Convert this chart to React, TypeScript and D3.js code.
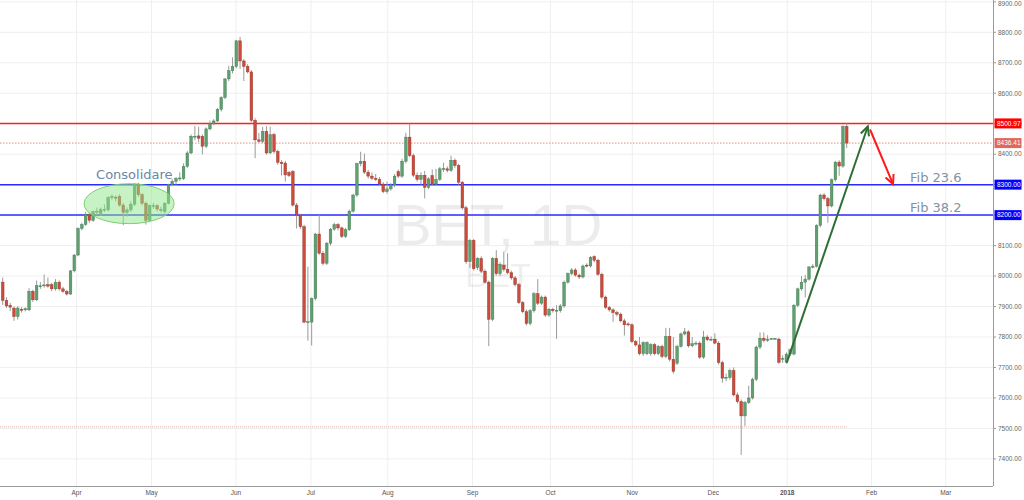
import React from "react";
import * as d3 from "d3";

// [open, high, low, close] per daily bar, in order
const bars: [number, number, number, number][] = [
  [7980,7995,7905,7920],[7920,7930,7895,7902],[7904,7912,7885,7898],[7895,7900,7853,7867],[7867,7902,7857,7895],
  [7891,7898,7880,7889],[7889,7897,7884,7893],[7889,7960,7885,7950],[7950,7955,7915,7922],[7922,7985,7918,7969],
  [7967,7980,7958,7968],[7970,8005,7962,7971],[7972,7995,7962,7967],[7972,7978,7950,7958],[7958,7990,7952,7980],
  [7980,7986,7952,7958],[7958,7965,7945,7950],[7950,7955,7936,7941],[7941,8020,7938,8017],[8017,8072,8012,8069],
  [8069,8160,8065,8156],[8156,8175,8150,8169],[8169,8210,8165,8202],[8202,8208,8175,8183],[8183,8215,8178,8211],
  [8211,8225,8200,8213],[8205,8225,8198,8218],[8218,8235,8210,8219],[8217,8262,8212,8258],[8260,8268,8250,8261],
  [8259,8265,8245,8258],[8261,8268,8228,8233],[8233,8240,8167,8209],[8209,8225,8195,8217],[8217,8245,8210,8236],
  [8236,8305,8230,8302],[8302,8306,8260,8267],[8267,8272,8232,8239],[8239,8245,8169,8183],[8183,8235,8178,8231],
  [8231,8240,8220,8232],[8231,8236,8212,8220],[8217,8228,8208,8218],[8211,8242,8205,8239],[8239,8303,8235,8300],
  [8300,8318,8295,8311],[8311,8325,8300,8320],[8320,8340,8312,8322],[8320,8370,8315,8360],[8360,8410,8355,8404],
  [8404,8465,8400,8459],[8457,8493,8445,8459],[8460,8490,8440,8452],[8459,8465,8399,8426],[8426,8488,8420,8483],
  [8483,8510,8478,8501],[8503,8515,8495,8509],[8509,8552,8505,8547],[8547,8590,8540,8586],[8586,8650,8580,8647],
  [8647,8690,8640,8674],[8674,8718,8665,8688],[8688,8775,8682,8772],[8772,8785,8680,8706],[8706,8712,8640,8688],
  [8688,8695,8665,8670],[8670,8676,8505,8511],[8511,8518,8387,8447],[8447,8470,8438,8442],[8442,8490,8436,8475],
  [8475,8492,8398,8404],[8404,8490,8400,8464],[8464,8470,8402,8409],[8409,8415,8365,8373],[8373,8380,8330,8369],
  [8371,8378,8310,8332],[8340,8345,8325,8330],[8343,8348,8228,8233],[8233,8240,8156,8200],[8200,8205,8155,8162],
  [8162,8168,7845,7849],[7849,8031,7788,7850],[7849,7930,7772,7926],[7926,8142,7920,8138],[8138,8200,8070,8075],
  [8075,8082,8035,8042],[8042,8112,8036,8108],[8108,8158,8100,8154],[8154,8175,8148,8169],[8169,8174,8150,8158],
  [8158,8162,8125,8130],[8130,8158,8125,8152],[8152,8218,8148,8213],[8213,8270,8208,8266],[8266,8372,8260,8369],
  [8369,8408,8360,8377],[8377,8402,8335,8341],[8341,8348,8320,8328],[8328,8340,8315,8321],[8321,8335,8312,8317],
  [8317,8325,8298,8302],[8302,8308,8272,8277],[8277,8310,8270,8286],[8286,8305,8280,8299],[8299,8335,8292,8328],
  [8343,8350,8322,8328],[8328,8385,8322,8377],[8377,8470,8370,8456],[8456,8500,8390,8395],[8395,8402,8325,8331],
  [8331,8340,8310,8317],[8317,8340,8300,8331],[8331,8345,8255,8291],[8291,8325,8285,8319],[8330,8350,8296,8302],
  [8302,8352,8296,8317],[8317,8358,8312,8352],[8352,8372,8342,8353],[8352,8360,8340,8347],[8347,8395,8342,8380],
  [8380,8386,8355,8363],[8363,8368,8300,8308],[8308,8312,8218,8224],[8224,8230,8040,8047],[8047,8122,8027,8117],
  [8117,8122,8018,8024],[8028,8062,8020,8058],[8058,8065,8010,8016],[8016,8022,7975,7980],[7980,7985,7770,7858],
  [7858,8062,7852,8058],[8058,8085,8002,8008],[8008,8045,8000,8039],[8036,8080,8015,8022],[8022,8075,8005,8011],
  [8011,8018,7988,7994],[7994,8000,7965,7972],[7972,7978,7908,7913],[7913,7918,7878,7883],[7883,7890,7838,7844],
  [7844,7892,7838,7886],[7886,7948,7880,7942],[7942,7990,7905,7911],[7911,7936,7905,7931],[7931,7936,7866,7872],
  [7872,7896,7866,7891],[7891,7896,7880,7886],[7886,7905,7794,7888],[7886,7908,7880,7902],[7902,7985,7896,7980],
  [7980,8012,7975,8008],[8008,8026,8002,8020],[8020,8026,7998,8003],[8003,8008,7990,7997],[7997,8038,7992,8033],
  [8036,8042,8028,8033],[8033,8066,8028,8061],[8064,8068,8045,8052],[8052,8057,8000,8006],[8006,8011,7925,7931],
  [7931,7936,7892,7897],[7897,7902,7883,7889],[7889,7894,7850,7880],[7880,7886,7868,7875],[7875,7880,7848,7853],
  [7853,7860,7805,7840],[7843,7848,7835,7840],[7840,7845,7780,7785],[7785,7790,7768,7774],[7774,7800,7740,7745],
  [7745,7786,7738,7782],[7745,7786,7740,7782],[7745,7780,7738,7775],[7775,7780,7740,7745],[7745,7774,7740,7769],
  [7769,7775,7730,7736],[7736,7830,7730,7802],[7802,7830,7720,7727],[7727,7800,7680,7687],[7714,7775,7708,7769],
  [7769,7815,7765,7810],[7810,7830,7805,7817],[7817,7822,7765,7771],[7771,7800,7766,7778],[7778,7786,7772,7780],
  [7780,7786,7728,7734],[7734,7820,7728,7800],[7800,7806,7786,7791],[7793,7802,7786,7793],[7793,7812,7776,7780],
  [7780,7786,7710,7716],[7716,7722,7650,7665],[7667,7680,7655,7668],[7667,7696,7660,7690],[7690,7700,7605,7610],
  [7610,7618,7582,7588],[7588,7595,7413,7541],[7541,7590,7508,7585],[7585,7640,7580,7600],[7600,7666,7595,7661],
  [7661,7772,7655,7767],[7767,7815,7760,7796],[7796,7815,7783,7789],[7789,7806,7784,7793],[7795,7797,7793,7795],
  [7795,7797,7793,7795],[7793,7798,7712,7717],[7728,7740,7715,7730],[7717,7750,7712,7744],[7744,7762,7738,7758],
  [7744,7908,7740,7904],[7904,7962,7898,7958],[7958,8000,7952,7980],[7980,8004,7930,7990],[7990,8032,7985,8030],
  [8030,8040,8025,8032],[8032,8170,8028,8166],[8166,8270,8160,8266],[8266,8272,8248,8254],[8254,8260,8175,8230],
  [8230,8320,8225,8316],[8316,8378,8310,8374],[8374,8380,8329,8361],[8361,8495,8355,8491],[8491,8500.97,8420,8436.41],
];

const priceTicks = [7400, 7500, 7600, 7700, 7800, 7900, 8000, 8100, 8200, 8300, 8400, 8500, 8600, 8700, 8800, 8900];

const monthLabels = ["Apr", "May", "Jun", "Jul", "Aug", "Sep", "Oct", "Nov", "Dec", "2018", "Feb", "Mar"];
const monthBarIndex = [19.6, 39.5, 61.9, 81.8, 102.2, 124.7, 145.4, 167.1, 188.6, 208.2, 230.6, 250.3];

const levelValues = [8500.97, 8436.41, 8300, 8200];
const levelColors = ["#ff1f1f", "#e8897f", "#2b2bff", "#2b2bff"];
const levelBoxColors = ["#ff0000", "#e0685c", "#0000ff", "#0000ff"];

const fibLabels = ["Fib 23.6", "Fib 38.2"];
const fibValues = [8300, 8200];

const W = 1024;
const H = 500;
const plotRight = 993;
const plotBottom = 486;

export default function App() {
  const x = d3.scaleLinear().domain([0, bars.length - 1]).range([2.7, 846.7]);
  const y = d3.scaleLinear().domain([7311, 8906]).range([plotBottom, 0]);
  const bw = 2.7;

  const up = "#5f9f70";
  const upStroke = "#3f7a50";
  const dn = "#cc4c3b";
  const dnStroke = "#8e3226";

  // annotation geometry in data space
  const ell = { i0: 21.6, i1: 45.5, v0: 8172, v1: 8303 };
  const gA = { i0: 208.1, v0: 7716, i1: 229.6, v1: 8491 };
  const rA = { i0: 230.2, v0: 8481, i1: 236.3, v1: 8302 };

  const arrowHead = (x0: number, y0: number, x1: number, y1: number, len: number) => {
    const ang = Math.atan2(y1 - y0, x1 - x0);
    const a1 = ang + Math.PI - 0.45;
    const a2 = ang + Math.PI + 0.45;
    return `M${x1 + len * Math.cos(a1)},${y1 + len * Math.sin(a1)} L${x1},${y1} L${x1 + len * Math.cos(a2)},${y1 + len * Math.sin(a2)}`;
  };

  const gx0 = x(gA.i0), gy0 = y(gA.v0), gx1 = x(gA.i1), gy1 = y(gA.v1);
  const rx0 = x(rA.i0), ry0 = y(rA.v0), rx1 = x(rA.i1), ry1 = y(rA.v1);

  return (
    <div style={{ position: "fixed", left: 0, top: 0, width: W, height: H, background: "#fff" }}>
      <svg width={W} height={H} style={{ display: "block", fontFamily: "'Liberation Sans', Arial, sans-serif" }}>
        <rect x={0} y={0} width={W} height={H} fill="#fff" />
        {/* grid */}
        {priceTicks.map((t) => (
          <line key={"g" + t} x1={0} x2={plotRight} y1={y(t)} y2={y(t)} stroke="#efefef" strokeWidth={1} />
        ))}
        {monthBarIndex.map((m, k) => (
          <line key={"v" + k} x1={x(m)} x2={x(m)} y1={0} y2={plotBottom} stroke="#efefef" strokeWidth={1} />
        ))}

        {/* watermark */}
        <text x={498} y={245} textAnchor="middle" fontSize={57} fill="#000" fillOpacity={0.075}>BET, 1D</text>
        <text x={498} y={287} textAnchor="middle" fontSize={34} fill="#000" fillOpacity={0.075}>BET</text>

        {/* faint lower line */}
        <line x1={0} x2={x(bars.length - 1)} y1={y(7505)} y2={y(7505)} stroke="#e6b0ab" strokeWidth={1} strokeDasharray="1,1" />

        {/* level lines */}
        {levelValues.map((v, k) => (
          <line key={"l" + k} x1={0} x2={plotRight} y1={y(v)} y2={y(v)} stroke={levelColors[k]}
            strokeWidth={k === 1 ? 1 : 1.5} strokeDasharray={k === 1 ? "1.5,1.5" : undefined} />
        ))}

        {/* candles */}
        {bars.map(([o, h, l, c], i) => {
          const cx = x(i);
          const isUp = c >= o;
          const top = y(Math.max(o, c));
          const bot = y(Math.min(o, c));
          return (
            <g key={i}>
              <line x1={cx} x2={cx} y1={y(h)} y2={y(l)} stroke="#9a9a9a" strokeWidth={1} />
              <rect x={cx - bw / 2} y={top} width={bw} height={Math.max(1, bot - top)}
                fill={isUp ? up : dn} stroke={isUp ? upStroke : dnStroke} strokeWidth={0.4} />
            </g>
          );
        })}

        {/* consolidation ellipse */}
        <ellipse cx={(x(ell.i0) + x(ell.i1)) / 2} cy={(y(ell.v0) + y(ell.v1)) / 2}
          rx={(x(ell.i1) - x(ell.i0)) / 2} ry={(y(ell.v0) - y(ell.v1)) / 2}
          fill="#8fe88a" fillOpacity={0.5} stroke="#7ccf74" strokeWidth={1} />
        <text x={x(ell.i0) + 12} y={179} fontSize={13} fill="#6c87a3"
          fontFamily="'DejaVu Sans', Verdana, sans-serif">Consolidare</text>

        {/* arrows */}
        <line x1={gx0} y1={gy0} x2={gx1} y2={gy1} stroke="#2f6e35" strokeWidth={2} />
        <path d={arrowHead(gx0, gy0, gx1, gy1, 10)} fill="none" stroke="#2f6e35" strokeWidth={2} />
        <line x1={rx0} y1={ry0} x2={rx1} y2={ry1} stroke="#ff1a1a" strokeWidth={2} />
        <path d={arrowHead(rx0, ry0, rx1, ry1, 10)} fill="none" stroke="#ff1a1a" strokeWidth={2} />

        {/* fib labels */}
        {fibLabels.map((f, k) => (
          <text key={f} x={910} y={y(fibValues[k]) - 3} fontSize={13} fill="#7f93a8"
            fontFamily="'DejaVu Sans', Verdana, sans-serif">{f}</text>
        ))}

        {/* axes */}
        <line x1={plotRight + 0.5} x2={plotRight + 0.5} y1={0} y2={plotBottom} stroke="#9b9b9b" strokeWidth={1} />
        <line x1={0} x2={plotRight} y1={plotBottom + 0.5} y2={plotBottom + 0.5} stroke="#9b9b9b" strokeWidth={1} />
        {priceTicks.map((t) => (
          <g key={"t" + t}>
            <line x1={plotRight} x2={plotRight + 3} y1={y(t)} y2={y(t)} stroke="#9b9b9b" />
            <text x={plotRight + 5} y={Math.max(y(t) + 2.3, 6)} fontSize={6.5} fill="#666">{t.toFixed(2)}</text>
          </g>
        ))}
        {monthLabels.map((m, k) => (
          <text key={"m" + k} x={x(monthBarIndex[k])} y={495} textAnchor="middle" fontSize={6.5}
            fill="#555" fontWeight={m === "2018" ? "bold" : "normal"}>{m}</text>
        ))}
        {levelValues.map((v, k) => (
          <g key={"b" + k}>
            <rect x={plotRight + 1.5} y={y(v) - 5} width={27} height={10} fill={levelBoxColors[k]} />
            <text x={plotRight + 4} y={y(v) + 2.3} fontSize={6.5} fill="#fff">{v.toFixed(2)}</text>
          </g>
        ))}
      </svg>
    </div>
  );
}
